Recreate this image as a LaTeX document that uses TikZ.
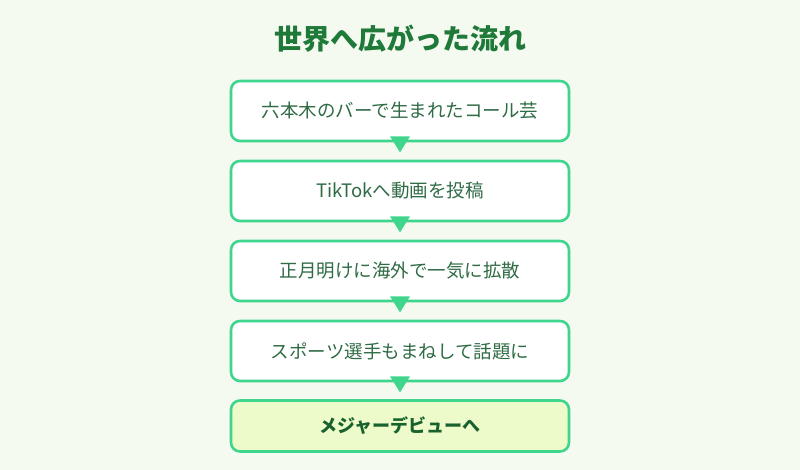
\documentclass[tikz,border=0pt]{standalone}
\usepackage{fontspec}
\newfontfamily\cjk{Noto Sans CJK JP}
\definecolor{bg}{HTML}{F5FAF1}
\definecolor{bd}{HTML}{3DD68C}
\definecolor{tx}{HTML}{2F6B45}
\definecolor{ti}{HTML}{1F7A3A}
\definecolor{last}{HTML}{EDFBCB}
\begin{document}
\begin{tikzpicture}[x=1pt,y=-1pt,
 stepbox/.style={draw=bd,line width=2.6pt,rounded corners=9pt,fill=white,minimum width=338pt,minimum height=60pt,font=\cjk\fontsize{18.5}{22}\selectfont,text=tx},
 tri/.style={fill=bd}]
\fill[bg] (0,0) rectangle (800,470);
\node[font=\cjk\bfseries\fontsize{28}{32}\selectfont,text=ti] (title) at (400,39) {世界へ広がった流れ};
\node[stepbox] (s1) at (400,111) {六本木のバーで生まれたコール芸};
\node[stepbox] (s2) at (400,191) {TikTokへ動画を投稿};
\node[stepbox] (s3) at (400,271) {正月明けに海外で一気に拡散};
\node[stepbox] (s4) at (400,351) {スポーツ選手もまねして話題に};
\node[stepbox,fill=last,minimum height=51pt,font=\cjk\bfseries\fontsize{18}{22}\selectfont,text=ti!80!black] (s5) at (400,426) {メジャーデビューへ};
\foreach \a in {s1,s2,s3,s4}{
 \fill[bd] ([xshift=-10pt,yshift=6pt]\a.south) -- ([xshift=10pt,yshift=6pt]\a.south) -- ([yshift=-10pt]\a.south) -- cycle;}
\end{tikzpicture}
\end{document}
